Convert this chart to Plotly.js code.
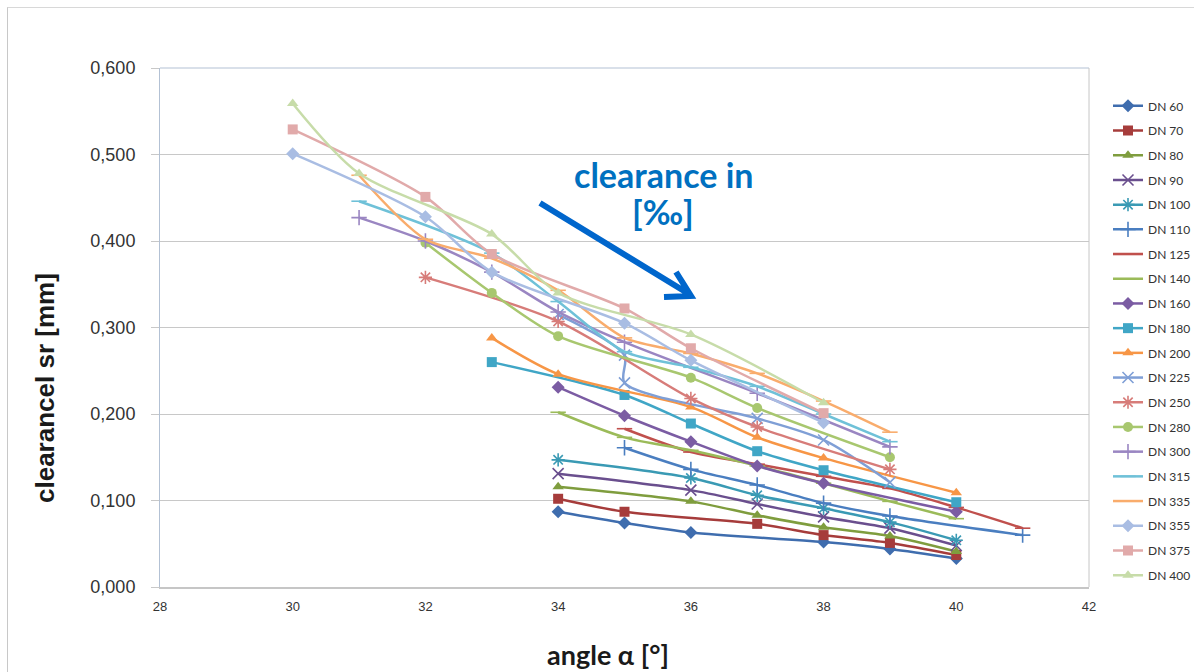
<!DOCTYPE html>
<html>
<head>
<meta charset="utf-8">
<script src="https://cdn.plot.ly/plotly-3.0.1.min.js"></script>
<style>
  html, body { margin: 0; padding: 0; background: #ffffff; }
  #wrap { position: relative; width: 1194px; height: 672px; overflow: hidden; }
  #chart { position: absolute; left: 0; top: 0; width: 1194px; height: 672px; }
  #frame { position: absolute; left: 7px; top: 7px; width: 1200px; height: 700px;
           border-left: 1px solid #c8c8c8; border-top: 1px solid #d8d8d8; pointer-events: none; }
</style>
</head>
<body>
<div id="wrap"><div id="chart"></div><div id="frame"></div></div>
<script>
// ---- data ----
const seriesNames = ['DN 60','DN 70','DN 80','DN 90','DN 100','DN 110','DN 125','DN 140','DN 160','DN 180',
                     'DN 200','DN 225','DN 250','DN 280','DN 300','DN 315','DN 335','DN 355','DN 375','DN 400'];

const xDN60  = [34, 35, 36, 38, 39, 40];
const yDN60  = [0.087, 0.074, 0.063, 0.052, 0.044, 0.033];
const xDN70  = [34, 35, 37, 38, 39, 40];
const yDN70  = [0.102, 0.087, 0.073, 0.060, 0.051, 0.037];
const xDN80  = [34, 36, 37, 38, 39, 40];
const yDN80  = [0.116, 0.099, 0.083, 0.069, 0.059, 0.041];
const xDN90  = [34, 36, 37, 38, 39, 40];
const yDN90  = [0.131, 0.112, 0.096, 0.081, 0.068, 0.048];
const xDN100 = [34, 36, 37, 38, 39, 40];
const yDN100 = [0.147, 0.126, 0.106, 0.091, 0.075, 0.054];
const xDN110 = [35, 36, 37, 38, 39, 41];
const yDN110 = [0.161, 0.136, 0.118, 0.097, 0.082, 0.060];
const xDN125 = [35, 36, 37, 38, 39, 40, 41];
const yDN125 = [0.183, 0.156, 0.142, 0.128, 0.114, 0.092, 0.068];
const xDN140 = [34, 35, 36, 37, 38, 39, 40];
const yDN140 = [0.202, 0.173, 0.158, 0.140, 0.120, 0.099, 0.079];
const xDN160 = [34, 35, 36, 37, 38, 40];
const yDN160 = [0.231, 0.198, 0.168, 0.140, 0.120, 0.087];
const xDN180 = [33, 35, 36, 37, 38, 40];
const yDN180 = [0.260, 0.222, 0.189, 0.157, 0.135, 0.098];
const xDN200 = [33, 34, 36, 37, 38, 40];
const yDN200 = [0.288, 0.246, 0.208, 0.173, 0.149, 0.109];
const xDN225 = [34, 35, 35, 37, 38, 39];
const yDN225 = [0.315, 0.268, 0.236, 0.195, 0.170, 0.121];
const xDN250 = [32, 34, 36, 37, 39];
const yDN250 = [0.358, 0.307, 0.218, 0.185, 0.136];
const xDN280 = [32, 33, 34, 36, 37, 39];
const yDN280 = [0.398, 0.340, 0.290, 0.242, 0.207, 0.150];
const xDN300 = [31, 32, 33, 34, 35, 37, 39];
const yDN300 = [0.427, 0.400, 0.364, 0.318, 0.283, 0.224, 0.162];
const xDN315 = [31, 33, 34, 35, 36, 37, 38, 39];
const yDN315 = [0.446, 0.386, 0.330, 0.272, 0.254, 0.232, 0.200, 0.168];
const xDN335 = [31, 32, 33, 34, 35, 36, 37, 38, 39];
const yDN335 = [0.476, 0.402, 0.380, 0.343, 0.288, 0.270, 0.247, 0.215, 0.179];
const xDN355 = [30, 32, 33, 35, 36, 38];
const yDN355 = [0.501, 0.428, 0.364, 0.305, 0.262, 0.190];
const xDN375 = [30, 32, 33, 35, 36, 38];
const yDN375 = [0.529, 0.451, 0.385, 0.322, 0.276, 0.201];
const xDN400 = [30, 31, 33, 34, 36, 38];
const yDN400 = [0.559, 0.478, 0.408, 0.340, 0.292, 0.213];

const xTickVals = [28, 30, 32, 34, 36, 38, 40, 42];
const yTickVals = [0, 0.1, 0.2, 0.3, 0.4, 0.5, 0.6];

const xSeries = [xDN60,xDN70,xDN80,xDN90,xDN100,xDN110,xDN125,xDN140,xDN160,xDN180,
                 xDN200,xDN225,xDN250,xDN280,xDN300,xDN315,xDN335,xDN355,xDN375,xDN400];
const ySeries = [yDN60,yDN70,yDN80,yDN90,yDN100,yDN110,yDN125,yDN140,yDN160,yDN180,
                 yDN200,yDN225,yDN250,yDN280,yDN300,yDN315,yDN335,yDN355,yDN375,yDN400];

// ---- styles ----
const colors = ['#3f6dae','#a63c3b','#7f9d3e','#6a4f8e','#3a9ab4','#4a7ec0','#c0504d','#9bbb59','#7b5ca3','#40a6c6',
                '#f79646','#7f9fd6','#d77c79','#a8c76f','#9a86c2','#6fc1d8','#f9ac6c','#a9bde3','#e1aaaa','#c7dca9'];
const symbols = ['diamond','square','triangle-up','x-thin-open','asterisk-open','cross-thin-open','line-ew-open','line-ew-open','diamond','square',
                 'triangle-up','x-thin-open','asterisk-open','circle','cross-thin-open','line-ew-open','line-ew-open','diamond','square','triangle-up'];

const traces = seriesNames.map((name, i) => {
  const sym = symbols[i];
  const thin = sym.indexOf('open') >= 0;
  return {
    type: 'scatter', mode: 'lines+markers', name: name,
    x: xSeries[i], y: ySeries[i],
    legendgroup: 'g' + i,
    line: { color: colors[i], width: 2.5, shape: 'spline', smoothing: 0.8 },
    marker: { symbol: sym, color: colors[i], size: thin ? 11 : 10,
              line: { color: colors[i], width: thin ? 1.6 : 0 } },
    hoverinfo: 'skip'
  };
});

// plot geometry used for the arrow
const L = 160, R = 105, T = 68, B = 85, W = 1194, H = 672;
const pw = W - L - R, ph = H - T - B;
const xr = [28, 42], yr = [0, 0.6];
function dx(px) { return xr[0] + (px - L) / pw * (xr[1] - xr[0]); }
function dy(py) { return yr[0] + (T + ph - py) / ph * (yr[1] - yr[0]); }
const arrowPath = 'M ' + dx(540) + ',' + dy(203) + ' L ' + dx(689) + ',' + dy(294) +
                  ' M ' + dx(676) + ',' + dy(272) + ' L ' + dx(691) + ',' + dy(296) + ' L ' + dx(664) + ',' + dy(297);

const layout = {
  width: W, height: H,
  margin: { l: L, r: R, t: T, b: B, pad: 0, autoexpand: false },
  paper_bgcolor: '#ffffff', plot_bgcolor: '#ffffff',
  separators: ', ',
  font: { family: 'Liberation Sans, Arial, sans-serif', color: '#333333' },
  showlegend: true,
  legend: { x: (1108 - L) / pw, xanchor: 'left', y: 0.955, yanchor: 'top',
            font: { family: 'Lato, Carlito, sans-serif', size: 12, color: '#333333' },
            tracegroupgap: 5.7, itemwidth: 30, bgcolor: 'rgba(0,0,0,0)', borderwidth: 0 },
  xaxis: {
    range: xr, tickvals: xTickVals, ticktext: xTickVals.map(String),
    showgrid: false, zeroline: false,
    showline: true, linecolor: '#c6c6c6', linewidth: 1.5, mirror: false,
    ticks: '', tickfont: { size: 13, color: '#333333' }, ticklabelstandoff: 7
  },
  yaxis: {
    range: yr, tickvals: yTickVals, tickformat: '.3f',
    showgrid: true, gridcolor: '#c8c8c8', gridwidth: 1, zeroline: false,
    showline: true, linecolor: '#b3c1d4', linewidth: 1, mirror: false,
    ticks: 'outside', ticklen: 8, tickcolor: '#c8c8c8',
    tickfont: { size: 18, color: '#333333' }, ticklabelstandoff: 12
  },
  shapes: [
    { type: 'line', xref: 'paper', yref: 'paper', x0: 0, x1: 1, y0: 1, y1: 1, line: { color: '#b3c1d4', width: 1 } },
    { type: 'line', xref: 'paper', yref: 'paper', x0: 1, x1: 1, y0: 0, y1: 1, line: { color: '#c6c6c6', width: 1 } },
    { type: 'path', xref: 'x', yref: 'y', path: arrowPath, line: { color: '#0066cc', width: 6 } }
  ],
  annotations: [
    { xref: 'paper', yref: 'paper', x: (663 - L) / pw, y: (T + ph - 174) / ph, xanchor: 'center', yanchor: 'middle',
      text: '<b>clearance in</b>', showarrow: false,
      font: { family: 'Lato, Carlito, sans-serif', size: 34, color: '#0070c0' } },
    { xref: 'paper', yref: 'paper', x: (663 - L) / pw, y: (T + ph - 212) / ph, xanchor: 'center', yanchor: 'middle',
      text: '<b>[‰]</b>', showarrow: false,
      font: { family: 'Lato, Carlito, sans-serif', size: 34, color: '#0070c0' } },
    { xref: 'paper', yref: 'paper', x: (608 - L) / pw, y: (T + ph - 654) / ph, xanchor: 'center', yanchor: 'middle',
      text: '<b>angle α [°]</b>', showarrow: false,
      font: { family: 'Lato, Carlito, sans-serif', size: 27, color: '#1a1a1a' } },
    { xref: 'paper', yref: 'paper', x: (45 - L) / pw, y: (T + ph - 388) / ph, xanchor: 'center', yanchor: 'middle',
      text: '<b>clearancel sr [mm]</b>', showarrow: false, textangle: -90,
      font: { family: 'Liberation Sans, Arial, sans-serif', size: 26, color: '#1a1a1a' } }
  ]
};

Plotly.newPlot('chart', traces, layout, { displayModeBar: false, staticPlot: true });
</script>
</body>
</html>
